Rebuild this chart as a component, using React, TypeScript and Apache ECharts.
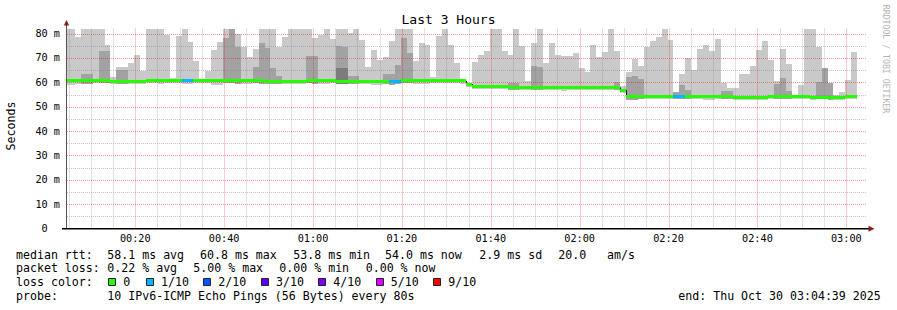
import React, { useEffect, useRef } from 'react';
import * as echarts from 'echarts';

// ---- time frame (seconds after 00:00) ----
const RANGE_START = 279; // 00:04:39
const RANGE_END = 11079; // 03:04:39
const FIRST_STEP_START = 226; // first 80 s RRD step
const STEP_SECONDS = 80;
const Y_MAX = 82.1;

// ---- data, one value per 80 s step ----
const medianRtt = [
  60.6, 60.6, 60.6, 60.8, 60.8, 60.8, 60.8, 60.8, 60.5, 60.5,
  60.5, 60.5, 60.5, 60.5, 60.7, 60.7, 60.7, 60.7, 60.7, 60.7,
  60.6, 60.6, 60.7, 60.7, 60.7, 60.7, 60.7, 60.7, 60.7, 60.7,
  60.7, 60.7, 60.7, 60.7, 60.5, 60.5, 60.5, 60.5, 60.5, 60.5,
  60.5, 60.7, 60.7, 60.7, 60.7, 60.7, 60.5, 60.5, 60.5, 60.5,
  60.3, 60.3, 60.3, 60.3, 60.3, 60.5, 60.5, 60.8, 60.8, 60.8,
  60.8, 60.8, 60.8, 60.8, 60.8, 60.8, 60.8, 60.6, 59.3, 58.4,
  58.4, 58.4, 58.4, 58.4, 58.4, 58.0, 58.0, 58.0, 58.0, 58.0,
  58.0, 57.7, 57.7, 57.7, 57.7, 57.7, 57.9, 57.9, 57.9, 57.9,
  57.9, 57.9, 57.9, 57.9, 56.8, 54.2, 54.2, 54.2, 54.2, 54.2,
  54.2, 54.0, 54.0, 54.0, 54.0, 54.0, 54.0, 54.3, 54.3, 54.3,
  54.3, 54.3, 54.3, 53.9, 53.9, 53.9, 53.9, 53.9, 53.9, 54.1,
  54.1, 54.1, 54.1, 54.1, 54.1, 54.1, 53.8, 53.8, 53.8, 53.8,
  53.8, 53.8, 54.1, 54.0,
];

const smokeLow = [
  58.8, 58.8, 59.5, 59.5, 59.5, 59.7, 59.7, 59.7, 59.3, 59.4,
  59.4, 59.4, 59.4, 59.3, 59.6, 59.6, 59.2, 59.6, 59.6, 59.6,
  59.5, 59.5, 59.6, 59.6, 59.6, 59.1, 59.1, 59.6, 59.6, 59.4,
  59.4, 59.4, 59.6, 59.4, 59.4, 59.4, 59.2, 59.2, 59.4, 59.4,
  59.4, 59.6, 59.2, 59.2, 59.2, 59.6, 59.4, 59.4, 59.4, 59.4,
  59.2, 59.2, 59.0, 59.0, 59.2, 59.1, 59.4, 59.7, 59.7, 59.3,
  59.3, 59.3, 59.7, 59.7, 59.7, 59.7, 59.7, 59.5, 58.2, 57.2,
  57.2, 57.2, 57.3, 57.3, 57.3, 57.0, 57.0, 57.0, 57.0, 57.0,
  57.0, 56.8, 56.8, 56.8, 56.6, 56.8, 56.9, 56.9, 56.9, 56.9,
  56.9, 56.9, 56.9, 56.9, 55.8, 52.7, 52.7, 53.1, 53.1, 53.1,
  53.1, 53.0, 53.0, 53.0, 53.0, 53.0, 53.0, 53.2, 52.7, 52.7,
  53.2, 53.2, 53.2, 52.9, 52.9, 52.9, 52.7, 52.7, 52.9, 53.0,
  53.0, 53.0, 53.0, 53.0, 53.0, 53.0, 52.8, 53.3, 53.3, 52.8,
  52.8, 52.8, 53.1, 53.0,
];

const smokeHigh = [
  83, 83, 78.8, 83, 83, 83, 83, 75.3, 62.3, 66.3,
  66.3, 68, 71.2, 64.7, 83, 83, 83, 79.4, 61.8, 79,
  83, 76.6, 68.8, 61.4, 64.7, 73.3, 76.6, 83, 83, 79.8,
  74.5, 70.4, 73.7, 83, 83, 83, 74.5, 78.6, 83, 83,
  83, 83, 78.2, 79.4, 83, 77.8, 83, 83, 80.3, 83,
  77.4, 66.3, 73.3, 69.2, 70.4, 77, 83, 83, 83, 68.8,
  76.2, 75.3, 62, 79, 83, 75.3, 68, 61.2, 59.6, 68.4,
  71.2, 72.9, 83, 83, 72.9, 71.2, 83, 74.9, 60.5, 76.2,
  83, 68, 76.2, 71.2, 70.8, 70.8, 72.1, 65.9, 64.2, 75.3,
  70.4, 72.5, 83, 72.9, 58.5, 64.3, 69.6, 66.7, 74.5, 77,
  78.6, 83, 77.4, 56, 63.4, 70, 65.1, 73.7, 75.3, 72.9,
  77.8, 59.7, 57.7, 57.7, 63.4, 63.4, 66.7, 73.3, 77, 69.2,
  60.5, 73.7, 67.5, 55, 58.9, 82, 83, 74.5, 65.9, 59.7,
  55, 56, 61, 72.5,
];

const smokeMid = [
  null, null, null, 63.3, 63.3, null, 72.9, 72.9, null, 65.1,
  65.1, null, null, null, null, null, null, null, null, null,
  null, null, null, null, null, null, null, 78.2, 83, 74.5,
  null, null, 66.3, 76.2, 74.1, 65.9, 62.6, null, null, null,
  null, 70.8, 70.8, null, null, null, 74.9, 74.5, 62.6, 62.6,
  null, null, null, null, 63.4, 63.4, 67.1, 78.2, 72.1, null,
  null, null, null, null, null, null, null, null, null, null,
  null, null, null, null, null, 59.7, 59.7, null, null, 66.7,
  66.3, null, null, null, null, null, null, null, null, null,
  null, null, null, 60.1, null, 62.2, 62.6, 61.5, null, null,
  null, null, null, 56, 58.9, 56.8, null, null, null, null,
  null, 56.4, 56.4, null, null, null, null, null, null, null,
  59.3, 61.8, 56.4, null, null, null, null, 60.1, 65.9, 59.7,
  null, null, null, null,
];

const smokeCore = [
  null, null, null, null, null, null, null, null, null, null,
  null, null, null, null, null, null, null, null, null, null,
  null, null, null, null, null, null, null, null, null, null,
  null, null, null, null, null, null, null, null, null, null,
  null, null, null, null, null, null, 65.9, 65.9, null, null,
  null, null, null, null, null, null, null, null, null, null,
  null, null, null, null, null, null, null, null, null, null,
  null, null, null, null, null, null, null, null, null, null,
  null, null, null, null, null, null, null, null, null, null,
  null, null, null, null, null, null, null, null, null, null,
  null, null, null, null, null, null, null, null, null, null,
  null, null, null, null, null, null, null, null, null, null,
  null, null, null, null, null, null, null, null, null, null,
  null, null, null, null,
];

const lossTenths = [
  0, 0, 0, 0, 0, 0, 0, 0, 0, 0,
  0, 0, 0, 0, 0, 0, 0, 0, 0, 0,
  1, 1, 0, 0, 0, 0, 0, 0, 0, 0,
  0, 0, 0, 0, 0, 0, 0, 0, 0, 0,
  0, 0, 0, 0, 0, 0, 0, 0, 0, 0,
  0, 0, 0, 0, 0, 1, 1, 0, 0, 0,
  0, 0, 0, 0, 0, 0, 0, 0, 0, 0,
  0, 0, 0, 0, 0, 0, 0, 0, 0, 0,
  0, 0, 0, 0, 0, 0, 0, 0, 0, 0,
  0, 0, 0, 0, 0, 0, 0, 0, 0, 0,
  0, 0, 0, 1, 1, 0, 0, 0, 0, 0,
  0, 0, 0, 0, 0, 0, 0, 0, 0, 0,
  0, 0, 0, 0, 0, 0, 0, 0, 0, 0,
  0, 0, 0, 0,
];

// ---- labels ----
const xTickLabels = ['00:20', '00:40', '01:00', '01:20', '01:40', '02:00', '02:20', '02:40', '03:00'];
const yTickValues = [0, 10, 20, 30, 40, 50, 60, 70, 80];
const yTickLabels = ['0', '10 m', '20 m', '30 m', '40 m', '50 m', '60 m', '70 m', '80 m'];
const titleText = 'Last 3 Hours';
const yAxisTitle = 'Seconds';
const watermark = 'RRDTOOL / TOBI OETIKER';
const rttStats = ['58.1 ms avg', '60.8 ms max', '53.8 ms min', '54.0 ms now', '2.9 ms sd', '20.0', 'am/s'];
const lossStats = ['0.22 % avg', '5.00 % max', '0.00 % min', '0.00 % now'];
const lossLegend = ['0', '1/10', '2/10', '3/10', '4/10', '5/10', '9/10'];
const lossColors = ['#26ff00', '#00b8ff', '#0059ff', '#5e00ff', '#7e00ff', '#dd00ff', '#ff0000'];
const probeText = '10 IPv6-ICMP Echo Pings (56 Bytes) every 80s';
const endText = 'end: Thu Oct 30 03:04:39 2025';

// ---- layout ----
const MONO = '"DejaVu Sans Mono", monospace';
const rttX = [107.3, 200, 293.3, 385, 479.3, 558.3, 607];
const lossX = [107.3, 193.3, 279.3, 365.7];
const boxX = [108.3, 146, 203.3, 261, 318.3, 375.7, 433.3];
const lineY = [254.7, 268.3, 282.3, 296];

const LIGHT = '#c9c9c9';
const MID = '#a2a2a2';
const CORE = '#7c7c7c';

function lossIndex(t: number) {
  if (t <= 4) return t;
  if (t <= 8) return 5;
  return 6;
}

function tickSeconds(label: string) {
  const [h, m] = label.split(':').map(Number);
  return h * 3600 + m * 60;
}

export default function App() {
  const ref = useRef<HTMLDivElement>(null);

  useEffect(() => {
    document.body.style.margin = '0';
    const chart = echarts.init(ref.current as HTMLDivElement, null, { renderer: 'svg' });

    const stepCenter = (i: number) => FIRST_STEP_START + i * STEP_SECONDS + STEP_SECONDS / 2;

    const smokeData = smokeHigh.map((h, i) => [
      stepCenter(i), smokeLow[i], h, smokeMid[i] ?? 0, smokeCore[i] ?? 0,
    ]);
    const medianData = medianRtt.map((m, i) => [
      stepCenter(i), m, i > 0 ? medianRtt[i - 1] : m, lossIndex(lossTenths[i]),
    ]);

    // grid lines: [kind, value] kind 0 minor vertical, 1 major vertical, 2 minor horizontal, 3 major horizontal
    const gridRows: number[][] = [];
    for (let t = 300; t <= RANGE_END; t += 300) {
      if (t < RANGE_START) continue;
      gridRows.push([t % 1200 === 0 ? 1 : 0, t]);
    }
    for (let v = 5; v < Y_MAX; v += 5) {
      gridRows.push([v % 10 === 0 ? 3 : 2, v]);
    }

    const xTickData = xTickLabels.map((l) => [tickSeconds(l), 0]);
    const yTickData = yTickValues.map((v) => [RANGE_START, v]);

    const textStyle = (text: string, x: number, y: number, size: number, extra: any = {}) => ({
      type: 'text',
      x,
      y,
      silent: true,
      style: {
        text,
        fill: '#000',
        fontFamily: MONO,
        fontSize: size,
        align: 'left',
        verticalAlign: 'middle',
        ...extra,
      },
    });

    const graphic: any[] = [];
    graphic.push(textStyle(titleText, 448.5, 19.5, 13, { align: 'center' }));
    graphic.push({ ...textStyle(yAxisTitle, 11, 126, 11.6, { align: 'center' }), rotation: Math.PI / 2 });
    graphic.push({
      ...textStyle(watermark, 886, 59, 8.2, { align: 'center', fill: '#b4b4b4' }),
      rotation: -Math.PI / 2,
    });
    // axes
    graphic.push({
      type: 'line', silent: true,
      shape: { x1: 66.5, y1: 24, x2: 66.5, y2: 229 },
      style: { stroke: '#555', lineWidth: 1 },
    });
    graphic.push({
      type: 'line', silent: true,
      shape: { x1: 62, y1: 228.8, x2: 869, y2: 228.8 },
      style: { stroke: '#000', lineWidth: 1.5 },
    });
    graphic.push({
      type: 'polygon', silent: true,
      shape: { points: [[63.8, 25.5], [69.2, 25.5], [66.5, 20]] },
      style: { fill: '#8e1c1c' },
    });
    graphic.push({
      type: 'polygon', silent: true,
      shape: { points: [[868.5, 225.8], [868.5, 231.8], [874.5, 228.8]] },
      style: { fill: '#8e1c1c' },
    });
    // legend lines
    graphic.push(textStyle('median rtt:', 16, lineY[0], 11.6));
    rttStats.forEach((s, i) => graphic.push(textStyle(s, rttX[i], lineY[0], 11.6)));
    graphic.push(textStyle('packet loss:', 16, lineY[1], 11.6));
    lossStats.forEach((s, i) => graphic.push(textStyle(s, lossX[i], lineY[1], 11.6)));
    graphic.push(textStyle('loss color:', 16, lineY[2], 11.6));
    lossLegend.forEach((s, i) => {
      graphic.push({
        type: 'rect', silent: true,
        shape: { x: Math.round(boxX[i]) + 0.5, y: 278.5, width: 7, height: 7 },
        style: { fill: lossColors[i], stroke: '#222', lineWidth: 1 },
      });
      graphic.push(textStyle(s, boxX[i] + 15, lineY[2], 11.6));
    });
    graphic.push(textStyle('probe:', 16, lineY[3], 11.6));
    graphic.push(textStyle(probeText, 107.3, lineY[3], 11.6));
    graphic.push(textStyle(endText, 678.3, lineY[3], 11.6));

    const option: any = {
      animation: false,
      backgroundColor: '#fff',
      grid: { left: 67, top: 28.5, width: 800, height: 200, containLabel: false },
      xAxis: { type: 'value', min: RANGE_START, max: RANGE_END, show: false },
      yAxis: { type: 'value', min: 0, max: Y_MAX, show: false },
      graphic,
      series: [
        {
          type: 'custom', z: 1, silent: true,
          data: smokeData,
          encode: { x: 0, y: 1 },
          renderItem: (params: any, api: any) => {
            const tc = api.value(0);
            const t0 = Math.max(tc - STEP_SECONDS / 2, RANGE_START);
            const t1 = Math.min(tc + STEP_SECONDS / 2, RANGE_END);
            if (t1 <= t0) return null;
            const x0 = Math.round(api.coord([t0, 0])[0]);
            const x1 = Math.round(api.coord([t1, 0])[0]);
            const yOf = (v: number) => Math.round(api.coord([t0, Math.min(v, Y_MAX)])[1]);
            const lo = api.value(1);
            const bands: [number, string][] = [[api.value(2), LIGHT], [api.value(3), MID], [api.value(4), CORE]];
            const children: any[] = [];
            bands.forEach(([top, color]) => {
              if (!top || top <= lo) return;
              const yt = yOf(top);
              const yb = yOf(lo);
              children.push({
                type: 'rect',
                shape: { x: x0, y: yt, width: x1 - x0, height: Math.max(1, yb - yt) },
                style: { fill: color },
              });
            });
            return { type: 'group', children };
          },
        },
        {
          type: 'custom', z: 2, silent: true,
          data: gridRows,
          encode: { x: 1, y: 1 },
          renderItem: (params: any, api: any) => {
            const kind = api.value(0);
            const v = api.value(1);
            const major = kind === 1 || kind === 3;
            const stroke = major ? 'rgba(255,0,0,0.42)' : 'rgba(120,120,120,0.42)';
            if (kind <= 1) {
              const x = Math.round(api.coord([v, 0])[0]) + 0.5;
              const yb = api.coord([v, 0])[1];
              const yt = api.coord([v, Y_MAX])[1];
              return {
                type: 'line',
                shape: { x1: x, y1: yt, x2: x, y2: yb },
                style: { stroke, lineWidth: 1, lineDash: [1, 1] },
              };
            }
            const y = Math.round(api.coord([RANGE_START, v])[1]) + 0.5;
            const xl = api.coord([RANGE_START, v])[0];
            const xr = api.coord([RANGE_END, v])[0];
            return {
              type: 'line',
              shape: { x1: xl, y1: y, x2: xr, y2: y },
              style: { stroke, lineWidth: 1, lineDash: [1, 1] },
            };
          },
        },
        {
          type: 'custom', z: 3, silent: true,
          data: medianData,
          encode: { x: 0, y: 1 },
          renderItem: (params: any, api: any) => {
            const tc = api.value(0);
            const t0 = Math.max(tc - STEP_SECONDS / 2, RANGE_START);
            const t1 = Math.min(tc + STEP_SECONDS / 2, RANGE_END);
            if (t1 <= t0) return null;
            const x0 = Math.round(api.coord([t0, 0])[0]);
            const x1 = Math.round(api.coord([t1, 0])[0]);
            const y = api.coord([t0, api.value(1)])[1];
            const yp = api.coord([t0, api.value(2)])[1];
            const color = lossColors[api.value(3)];
            return {
              type: 'group',
              children: [
                {
                  type: 'line',
                  shape: { x1: x0 + 0.5, y1: yp, x2: x0 + 0.5, y2: y },
                  style: { stroke: '#202020', lineWidth: 1 },
                },
                {
                  type: 'rect',
                  shape: { x: x0, y: Math.round(y - 1.5), width: x1 - x0, height: 3 },
                  style: { fill: color },
                },
              ],
            };
          },
        },
        {
          type: 'custom', z: 4, silent: true,
          data: xTickData,
          encode: { x: 0, y: 1 },
          renderItem: (params: any, api: any) => {
            const p = api.coord([api.value(0), 0]);
            return {
              type: 'text',
              style: {
                text: xTickLabels[params.dataIndex],
                x: p[0],
                y: p[1] + 10,
                align: 'center',
                verticalAlign: 'middle',
                fill: '#000',
                fontFamily: MONO,
                fontSize: 10.2,
              },
            };
          },
        },
        {
          type: 'custom', z: 4, silent: true,
          data: yTickData,
          encode: { x: 0, y: 1 },
          renderItem: (params: any, api: any) => {
            const v = api.value(1);
            const p = api.coord([api.value(0), v]);
            return {
              type: 'text',
              style: {
                text: yTickLabels[params.dataIndex],
                x: p[0] - 7 - (v === 0 ? 12.3 : 0),
                y: p[1],
                align: 'right',
                verticalAlign: 'middle',
                fill: '#000',
                fontFamily: MONO,
                fontSize: 10.2,
              },
            };
          },
        },
      ],
    };

    chart.setOption(option);
    return () => chart.dispose();
  }, []);

  return (
    <div
      ref={ref}
      style={{ position: 'absolute', left: 0, top: 0, width: 897, height: 310, background: '#fff' }}
    />
  );
}
